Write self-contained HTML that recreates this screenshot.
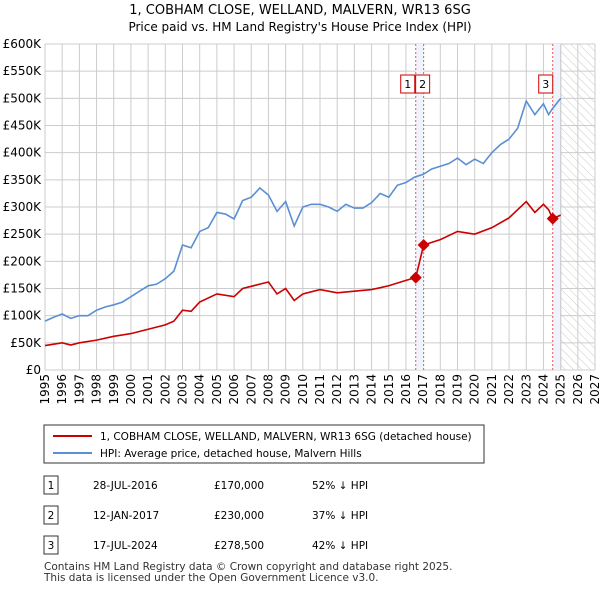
<!DOCTYPE html>
<html><head><meta charset="utf-8"><style>
body{margin:0;width:600px;height:590px;background:#fff;font-family:"Liberation Sans","DejaVu Sans",sans-serif;overflow:hidden}
svg{position:absolute;left:0;top:0}
</style></head><body>
<svg id="c" width="600" height="590" font-family="DejaVu Sans, Liberation Sans, sans-serif">
<defs><pattern id="hatch" width="6" height="6" patternUnits="userSpaceOnUse" patternTransform="rotate(-45)"><line x1="0" y1="0" x2="0" y2="6" stroke="#ccc" stroke-width="1"/></pattern></defs>
<text x="300" y="14" text-anchor="middle" font-size="13">1, COBHAM CLOSE, WELLAND, MALVERN, WR13 6SG</text>
<text x="300" y="31" text-anchor="middle" font-size="12">Price paid vs. HM Land Registry's House Price Index (HPI)</text>
<g id="grid"></g><g id="marks"></g>
<g>
<rect x="44" y="425" width="440" height="38" fill="#fff" stroke="#333"/>
<line x1="53" y1="436" x2="92" y2="436" stroke="#cc0000" stroke-width="2"/>
<text x="100" y="440" font-size="10.5">1, COBHAM CLOSE, WELLAND, MALVERN, WR13 6SG (detached house)</text>
<line x1="53" y1="453" x2="92" y2="453" stroke="#5b8fd4" stroke-width="2"/>
<text x="100" y="457" font-size="10.5">HPI: Average price, detached house, Malvern Hills</text>
</g>
<g font-size="10.5">
<rect x="44" y="476" width="14" height="18" fill="#fff" stroke="#333"/><text x="51" y="489" text-anchor="middle">1</text>
<text x="93" y="489">28-JUL-2016</text><text x="214" y="489">£170,000</text><text x="312" y="489">52% ↓ HPI</text>
<rect x="44" y="506" width="14" height="18" fill="#fff" stroke="#333"/><text x="51" y="519" text-anchor="middle">2</text>
<text x="93" y="519">12-JAN-2017</text><text x="214" y="519">£230,000</text><text x="312" y="519">37% ↓ HPI</text>
<rect x="44" y="536" width="14" height="18" fill="#fff" stroke="#333"/><text x="51" y="549" text-anchor="middle">3</text>
<text x="93" y="549">17-JUL-2024</text><text x="214" y="549">£278,500</text><text x="312" y="549">42% ↓ HPI</text>
</g>
<text x="44" y="570" font-size="10.5" fill="#333">Contains HM Land Registry data © Crown copyright and database right 2025.</text>
<text x="44" y="581" font-size="10.5" fill="#333">This data is licensed under the Open Government Licence v3.0.</text>
</svg>
<script>
const hpiYears=[1995,1995.5,1996,1996.5,1997,1997.5,1998,1998.5,1999,1999.5,2000,2000.5,2001,2001.5,2002,2002.5,2003,2003.5,2004,2004.5,2005,2005.5,2006,2006.5,2007,2007.5,2008,2008.5,2009,2009.5,2010,2010.5,2011,2011.5,2012,2012.5,2013,2013.5,2014,2014.5,2015,2015.5,2016,2016.5,2017,2017.5,2018,2018.5,2019,2019.5,2020,2020.5,2021,2021.5,2022,2022.5,2023,2023.5,2024,2024.3,2024.5,2025];
const hpiValues=[90,97,103,95,100,100,110,116,120,125,135,145,155,158,168,182,230,225,255,262,290,287,278,312,318,335,322,292,310,265,300,305,305,300,292,305,298,298,308,325,318,340,345,355,360,370,375,380,390,378,388,380,400,415,425,445,495,470,490,470,480,500];
const ppYears=[1995,1996,1996.5,1997,1998,1999,2000,2001,2002,2002.5,2003,2003.5,2004,2005,2006,2006.5,2007.5,2008,2008.5,2009,2009.5,2010,2011,2012,2013,2014,2015,2016,2016.57,2017.03,2018,2019,2020,2021,2022,2023,2023.5,2024,2024.3,2024.54,2025];
const ppValues=[45,50,46,50,55,62,67,75,83,90,110,108,125,140,135,150,158,162,140,150,128,140,148,142,145,148,155,165,170,230,240,255,250,262,280,310,290,305,295,278.5,285];
const saleYears=[2016.57,2017.03,2024.54];
const saleValues=[170,230,278.5];
const saleLabels=["1","2","3"];
const yTicks=[0,50,100,150,200,250,300,350,400,450,500,550,600];
const xTicks=[1995,1996,1997,1998,1999,2000,2001,2002,2003,2004,2005,2006,2007,2008,2009,2010,2011,2012,2013,2014,2015,2016,2017,2018,2019,2020,2021,2022,2023,2024,2025,2026,2027];
const X0=45,X1=595,Y0=370,Y1=44;
const xs=y=>X0+(y-1995)/(2027-1995)*(X1-X0);
const ys=v=>Y0-v/600*(Y0-Y1);
const NS="http://www.w3.org/2000/svg";
function mk(t,a,p){const e=document.createElementNS(NS,t);for(const k in a)e.setAttribute(k,a[k]);p.appendChild(e);return e;}
const g=document.getElementById('grid'),m=document.getElementById('marks');
mk('rect',{x:xs(2025),y:Y1,width:X1-xs(2025),height:Y0-Y1,fill:'url(#hatch)'},g);
yTicks.forEach(v=>{mk('line',{x1:X0,x2:X1,y1:ys(v),y2:ys(v),stroke:'#ccc'},g);
 const t=mk('text',{x:X0-4,y:ys(v)+4,'text-anchor':'end','font-size':12},g);t.textContent='£'+(v?v+'K':'0');
 
 });
xTicks.forEach(y=>{mk('line',{x1:xs(y),x2:xs(y),y1:Y1,y2:Y0,stroke:'#ccc'},g);
 const t=mk('text',{transform:`translate(${xs(y)+4},${Y0+4}) rotate(-90)`,'text-anchor':'end','font-size':12},g);t.textContent=y;
 
 });
mk('line',{x1:xs(2025),x2:xs(2025),y1:Y1,y2:Y0,stroke:'#999'},g);
mk('rect',{x:xs(saleYears[0]),y:Y1,width:xs(saleYears[1])-xs(saleYears[0]),height:Y0-Y1,fill:'#eef3fc'},g);
mk('rect',{x:xs(saleYears[2]),y:Y1,width:xs(2025)-xs(saleYears[2]),height:Y0-Y1,fill:'#eef3fc'},g);
saleYears.forEach(y=>{mk('line',{x1:xs(y),x2:xs(y),y1:Y1,y2:Y0,stroke:'#e55','stroke-dasharray':'2,2'},g);});
const hp=mk('polyline',{points:hpiYears.map((y,i)=>xs(y)+','+ys(hpiValues[i])).join(' '),fill:'none',stroke:'#5b8fd4','stroke-width':1.6},m);


const pp=mk('polyline',{points:ppYears.map((y,i)=>xs(y)+','+ys(ppValues[i])).join(' '),fill:'none',stroke:'#cc0000','stroke-width':1.6},m);


saleYears.forEach((y,i)=>{const cx=xs(y),cy=ys(saleValues[i]);
 const d=mk('polygon',{points:`${cx},${cy-6} ${cx+6},${cy} ${cx},${cy+6} ${cx-6},${cy}`,fill:'#cc0000'},m);
 
 
 const off=i==0?-8:(i==1?-1:-7);
 const bx=mk('rect',{x:cx+off-7,y:75,width:14,height:18,fill:'#fff',stroke:'#cc0000'},m);
 
 
 const t=mk('text',{x:cx+off,y:88,'text-anchor':'middle','font-size':11},m);t.textContent=saleLabels[i];
 
 });
</script>
</body></html>
